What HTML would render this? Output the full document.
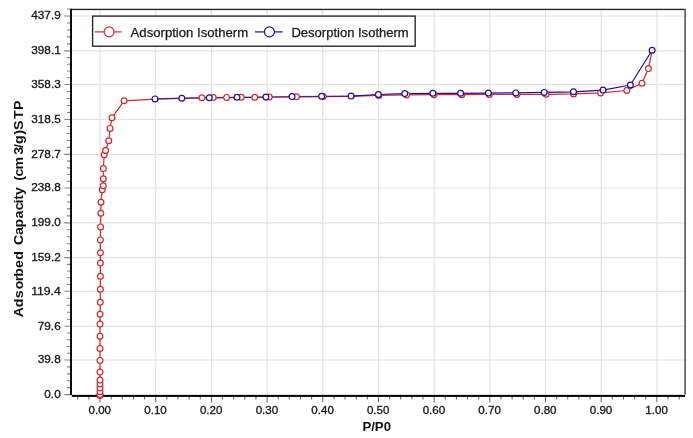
<!DOCTYPE html><html><head><meta charset="utf-8"><style>html,body{margin:0;padding:0;background:#fff}body{width:693px;height:438px;overflow:hidden}</style></head><body><svg width="693" height="438" viewBox="0 0 693 438" style="display:block;will-change:transform">
<rect width="693" height="438" fill="#fff"/>
<path d="M100.05 9.4V394.9M155.73 9.4V394.9M211.41 9.4V394.9M267.09 9.4V394.9M322.77 9.4V394.9M378.45 9.4V394.9M434.13 9.4V394.9M489.81 9.4V394.9M545.49 9.4V394.9M601.17 9.4V394.9M656.85 9.4V394.9M70.3 360.00H685M70.3 326.29H685M70.3 291.31H685M70.3 257.58H685M70.3 222.83H685M70.3 188.00H685M70.3 154.41H685M70.3 119.47H685M70.3 84.43H685M70.3 50.87H685M70.3 16.00H685" stroke="#e3e3e3" stroke-width="1.2" fill="none"/>
<path d="M77.78 396.5v3.0M88.91 396.5v3.0M100.05 396.5v5.8M111.19 396.5v3.0M122.32 396.5v3.0M133.46 396.5v3.0M144.59 396.5v3.0M155.73 396.5v5.8M166.87 396.5v3.0M178.00 396.5v3.0M189.14 396.5v3.0M200.27 396.5v3.0M211.41 396.5v5.8M222.55 396.5v3.0M233.68 396.5v3.0M244.82 396.5v3.0M255.95 396.5v3.0M267.09 396.5v5.8M278.23 396.5v3.0M289.36 396.5v3.0M300.50 396.5v3.0M311.63 396.5v3.0M322.77 396.5v5.8M333.91 396.5v3.0M345.04 396.5v3.0M356.18 396.5v3.0M367.31 396.5v3.0M378.45 396.5v5.8M389.59 396.5v3.0M400.72 396.5v3.0M411.86 396.5v3.0M422.99 396.5v3.0M434.13 396.5v5.8M445.27 396.5v3.0M456.40 396.5v3.0M467.54 396.5v3.0M478.67 396.5v3.0M489.81 396.5v5.8M500.95 396.5v3.0M512.08 396.5v3.0M523.22 396.5v3.0M534.35 396.5v3.0M545.49 396.5v5.8M556.63 396.5v3.0M567.76 396.5v3.0M578.90 396.5v3.0M590.03 396.5v3.0M601.17 396.5v5.8M612.31 396.5v3.0M623.44 396.5v3.0M634.58 396.5v3.0M645.71 396.5v3.0M656.85 396.5v5.8M667.99 396.5v3.0M679.12 396.5v3.0" stroke="#5a5a5a" stroke-width="0.95" fill="none"/>
<path d="M70.3 394.58h-6M70.3 387.66h-3.4M70.3 380.75h-3.4M70.3 373.83h-3.4M70.3 366.92h-3.4M70.3 360.00h-6M70.3 353.26h-3.4M70.3 346.52h-3.4M70.3 339.77h-3.4M70.3 333.03h-3.4M70.3 326.29h-6M70.3 319.29h-3.4M70.3 312.30h-3.4M70.3 305.30h-3.4M70.3 298.31h-3.4M70.3 291.31h-6M70.3 284.56h-3.4M70.3 277.82h-3.4M70.3 271.07h-3.4M70.3 264.33h-3.4M70.3 257.58h-6M70.3 250.63h-3.4M70.3 243.68h-3.4M70.3 236.73h-3.4M70.3 229.78h-3.4M70.3 222.83h-6M70.3 215.86h-3.4M70.3 208.90h-3.4M70.3 201.93h-3.4M70.3 194.97h-3.4M70.3 188.00h-6M70.3 181.28h-3.4M70.3 174.56h-3.4M70.3 167.85h-3.4M70.3 161.13h-3.4M70.3 154.41h-6M70.3 147.42h-3.4M70.3 140.43h-3.4M70.3 133.45h-3.4M70.3 126.46h-3.4M70.3 119.47h-6M70.3 112.46h-3.4M70.3 105.45h-3.4M70.3 98.45h-3.4M70.3 91.44h-3.4M70.3 84.43h-6M70.3 77.72h-3.4M70.3 71.01h-3.4M70.3 64.29h-3.4M70.3 57.58h-3.4M70.3 50.87h-6M70.3 43.90h-3.4M70.3 36.92h-3.4M70.3 29.95h-3.4M70.3 22.97h-3.4M70.3 16.00h-6M70.3 9.03h-3.4" stroke="#858585" stroke-width="1.1" fill="none"/>
<rect x="71" y="8.75" width="615" height="1.35" fill="#222"/>
<rect x="684.2" y="9" width="1.8" height="385.6" fill="#666"/>
<rect x="70.05" y="8.75" width="1.9" height="386.3" fill="#000"/>
<rect x="71.8" y="394.9" width="613.3" height="2.0" fill="#000"/>
<path d="M100.0 395.4L100.0 394.4L100.0 391.7L100.0 387.9L100.0 384.0L100.0 380.0L100.0 372.1L100.0 360.4L100.0 348.5L100.0 336.2L100.0 324.1L100.1 314.2L100.3 302.3L100.4 289.3L100.4 276.3L100.4 263.1L100.4 252.8L100.4 239.9L100.6 226.9L100.8 213.2L101.0 202.2L102.2 189.7L103.3 185.8L103.3 178.7L103.4 168.6L104.2 154.7L105.6 150.5L108.8 140.7L110.0 128.4L112.0 117.7L124.1 100.8L155.0 99.1L181.8 98.4L201.9 97.9L213.2 97.8L226.6 97.6L241.2 97.5L254.8 97.4L269.3 97.2L296.4 96.9L323.2 96.6L351.0 96.3L378.8 95.4L406.6 94.9L434.1 94.7L461.8 94.7L489.3 94.5L517.0 94.5L546.1 94.3L573.6 93.9L600.6 92.9L626.8 90.5L642.0 83.3L648.4 68.6L652.1 50.3" stroke="#d02a2c" stroke-width="1.2" fill="none" stroke-linejoin="round" stroke-opacity="1"/>
<path d="M652.1 50.3L630.4 85.0L603.0 90.1L573.5 91.8L544.2 92.4L515.8 92.9L488.4 93.1L460.6 93.3L432.9 93.3L404.7 93.6L378.4 94.5L351.1 96.1" stroke="#1e0e98" stroke-width="1.2" fill="none" stroke-linejoin="round" stroke-opacity="1"/>
<path d="M351.1 96.1L321.6 96.3L292.0 96.6L265.9 97.0L237.0 97.3L209.3 97.7L181.8 98.2L155.0 98.9" stroke="#1e0e98" stroke-width="1.2" fill="none" stroke-linejoin="round" stroke-opacity="0.68"/>
<g fill="#fff" stroke="#d02a2c" stroke-width="1.2"><circle cx="100.00" cy="395.4" r="2.9"/><circle cx="100.00" cy="394.4" r="2.9"/><circle cx="100.00" cy="391.7" r="2.9"/><circle cx="100.00" cy="387.9" r="2.9"/><circle cx="100.00" cy="384.0" r="2.9"/><circle cx="100.00" cy="380.0" r="2.9"/><circle cx="100.00" cy="372.1" r="2.9"/><circle cx="100.00" cy="360.4" r="2.9"/><circle cx="100.00" cy="348.5" r="2.9"/><circle cx="100.00" cy="336.2" r="2.9"/><circle cx="100.05" cy="324.1" r="2.9"/><circle cx="100.10" cy="314.2" r="2.9"/><circle cx="100.30" cy="302.3" r="2.9"/><circle cx="100.40" cy="289.3" r="2.9"/><circle cx="100.40" cy="276.3" r="2.9"/><circle cx="100.40" cy="263.1" r="2.9"/><circle cx="100.40" cy="252.8" r="2.9"/><circle cx="100.40" cy="239.9" r="2.9"/><circle cx="100.60" cy="226.9" r="2.9"/><circle cx="100.80" cy="213.2" r="2.9"/><circle cx="101.00" cy="202.2" r="2.9"/><circle cx="102.20" cy="189.7" r="2.9"/><circle cx="103.30" cy="185.8" r="2.9"/><circle cx="103.30" cy="178.7" r="2.9"/><circle cx="103.40" cy="168.6" r="2.9"/><circle cx="104.20" cy="154.7" r="2.9"/><circle cx="105.60" cy="150.5" r="2.9"/><circle cx="108.80" cy="140.7" r="2.9"/><circle cx="110.00" cy="128.4" r="2.9"/><circle cx="112.00" cy="117.7" r="2.9"/><circle cx="124.10" cy="100.8" r="2.9"/><circle cx="201.90" cy="97.7" r="2.9"/><circle cx="213.20" cy="97.6" r="2.9"/><circle cx="226.60" cy="97.4" r="2.9"/><circle cx="241.20" cy="97.3" r="2.9"/><circle cx="254.80" cy="97.2" r="2.9"/><circle cx="269.30" cy="97.0" r="2.9"/><circle cx="296.40" cy="96.7" r="2.9"/><circle cx="323.20" cy="96.4" r="2.9"/><circle cx="378.80" cy="95.4" r="2.9"/><circle cx="406.60" cy="94.9" r="2.9"/><circle cx="434.10" cy="94.7" r="2.9"/><circle cx="461.80" cy="94.7" r="2.9"/><circle cx="489.30" cy="94.5" r="2.9"/><circle cx="517.00" cy="94.5" r="2.9"/><circle cx="546.10" cy="94.3" r="2.9"/><circle cx="573.60" cy="93.9" r="2.9"/><circle cx="600.60" cy="92.9" r="2.9"/><circle cx="626.80" cy="90.5" r="2.9"/><circle cx="642.00" cy="83.3" r="2.9"/><circle cx="648.40" cy="68.6" r="2.9"/></g>
<g fill="#fff" stroke="#1e0e98" stroke-width="1.2"><circle cx="652.10" cy="50.3" r="2.9"/><circle cx="630.40" cy="85.0" r="2.9"/><circle cx="603.00" cy="90.1" r="2.9"/><circle cx="573.50" cy="91.8" r="2.9"/><circle cx="544.20" cy="92.4" r="2.9"/><circle cx="515.80" cy="92.9" r="2.9"/><circle cx="488.40" cy="93.1" r="2.9"/><circle cx="460.60" cy="93.3" r="2.9"/><circle cx="432.90" cy="93.3" r="2.9"/><circle cx="404.70" cy="93.6" r="2.9"/><circle cx="378.40" cy="94.5" r="2.9"/><circle cx="351.10" cy="96.1" r="2.9"/><circle cx="321.60" cy="96.3" r="2.9"/><circle cx="292.00" cy="96.6" r="2.9"/><circle cx="265.90" cy="97.0" r="2.9"/><circle cx="237.00" cy="97.3" r="2.9"/><circle cx="209.30" cy="97.7" r="2.9"/><circle cx="181.80" cy="98.2" r="2.9"/><circle cx="155.00" cy="98.9" r="2.9"/></g>
<rect x="92.6" y="16.1" width="322.6" height="30.1" fill="#fff" stroke="#2a2a2a" stroke-width="1.4"/>
<path d="M94.8 31.9H121.5" stroke="#d02a2c" stroke-width="1.2"/><circle cx="109.1" cy="31.9" r="5" fill="#fff" stroke="#d02a2c" stroke-width="1.2"/>
<path d="M255 31.9H282.7" stroke="#1e0e98" stroke-width="1.2"/><circle cx="269.4" cy="31.9" r="5" fill="#fff" stroke="#1e0e98" stroke-width="1.2"/>
<g font-family="Liberation Sans, sans-serif" font-size="12.9" fill="#161616" stroke="#161616" stroke-width="0.25">
<text x="130.6" y="37.3" textLength="117.5" lengthAdjust="spacingAndGlyphs">Adsorption Isotherm</text>
<text x="291.4" y="37.3" textLength="117.3" lengthAdjust="spacingAndGlyphs">Desorption Isotherm</text>
</g>
<g font-family="Liberation Sans, sans-serif" font-size="11" fill="#161616" stroke="#161616" stroke-width="0.3">
<text x="99.8" y="413.9" text-anchor="middle" textLength="22.5" lengthAdjust="spacingAndGlyphs">0.00</text>
<text x="155.5" y="413.9" text-anchor="middle" textLength="22.5" lengthAdjust="spacingAndGlyphs">0.10</text>
<text x="211.2" y="413.9" text-anchor="middle" textLength="22.5" lengthAdjust="spacingAndGlyphs">0.20</text>
<text x="266.9" y="413.9" text-anchor="middle" textLength="22.5" lengthAdjust="spacingAndGlyphs">0.30</text>
<text x="322.6" y="413.9" text-anchor="middle" textLength="22.5" lengthAdjust="spacingAndGlyphs">0.40</text>
<text x="378.2" y="413.9" text-anchor="middle" textLength="22.5" lengthAdjust="spacingAndGlyphs">0.50</text>
<text x="433.9" y="413.9" text-anchor="middle" textLength="22.5" lengthAdjust="spacingAndGlyphs">0.60</text>
<text x="489.6" y="413.9" text-anchor="middle" textLength="22.5" lengthAdjust="spacingAndGlyphs">0.70</text>
<text x="545.3" y="413.9" text-anchor="middle" textLength="22.5" lengthAdjust="spacingAndGlyphs">0.80</text>
<text x="601.0" y="413.9" text-anchor="middle" textLength="22.5" lengthAdjust="spacingAndGlyphs">0.90</text>
<text x="656.6" y="413.9" text-anchor="middle" textLength="22.5" lengthAdjust="spacingAndGlyphs">1.00</text>
<text x="60.7" y="398.0" text-anchor="end" textLength="16.36" lengthAdjust="spacingAndGlyphs">0.0</text>
<text x="60.7" y="363.4" text-anchor="end" textLength="22.91" lengthAdjust="spacingAndGlyphs">39.8</text>
<text x="60.7" y="329.7" text-anchor="end" textLength="22.91" lengthAdjust="spacingAndGlyphs">79.6</text>
<text x="60.7" y="294.7" text-anchor="end" textLength="29.45" lengthAdjust="spacingAndGlyphs">119.4</text>
<text x="60.7" y="261.0" text-anchor="end" textLength="29.45" lengthAdjust="spacingAndGlyphs">159.2</text>
<text x="60.7" y="226.2" text-anchor="end" textLength="29.45" lengthAdjust="spacingAndGlyphs">199.0</text>
<text x="60.7" y="191.4" text-anchor="end" textLength="29.45" lengthAdjust="spacingAndGlyphs">238.8</text>
<text x="60.7" y="157.8" text-anchor="end" textLength="29.45" lengthAdjust="spacingAndGlyphs">278.7</text>
<text x="60.7" y="122.9" text-anchor="end" textLength="29.45" lengthAdjust="spacingAndGlyphs">318.5</text>
<text x="60.7" y="87.8" text-anchor="end" textLength="29.45" lengthAdjust="spacingAndGlyphs">358.3</text>
<text x="60.7" y="54.3" text-anchor="end" textLength="29.45" lengthAdjust="spacingAndGlyphs">398.1</text>
<text x="60.7" y="19.4" text-anchor="end" textLength="29.45" lengthAdjust="spacingAndGlyphs">437.9</text>
</g>
<g font-family="Liberation Sans, sans-serif" font-weight="bold" fill="#111">
<text x="376.7" y="431" text-anchor="middle" font-size="13.2">P/P0</text>
<text transform="translate(22.9 316.4) rotate(-90) scale(1.06 1)" font-size="13.4" x="-0.73 8.69 17.12 25.58 33.20 37.37 45.57 53.36 67.38 76.70 83.83 92.31 100.10 106.49 109.99 114.62 127.91 131.89 138.71 152.60 158.84 162.75 171.54 175.91 186.28 194.63">AdsorbedCapacity(cm3/g)STP</text>
</g>
</svg></body></html>
